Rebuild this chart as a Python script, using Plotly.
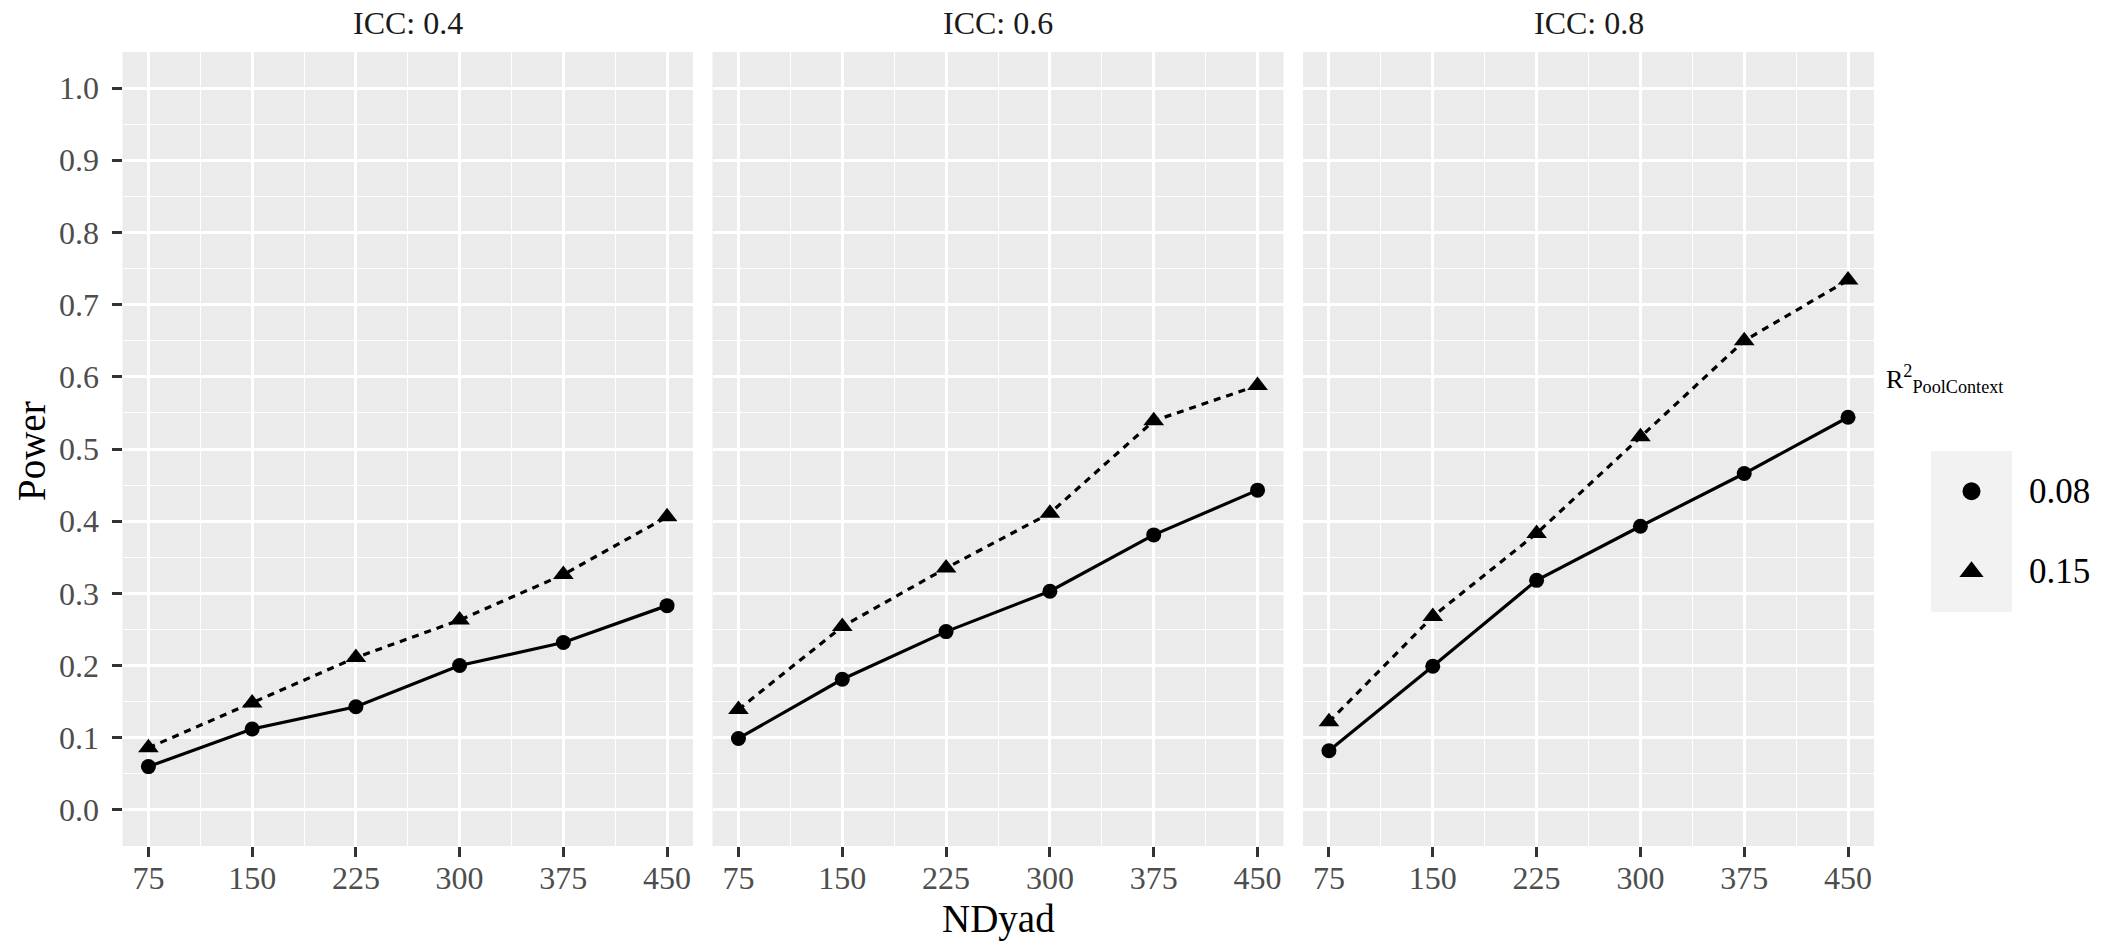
import plotly.graph_objects as go

# ---- data ----
ndyad = [75, 150, 225, 300, 375, 450]
icc_labels = ["ICC: 0.4", "ICC: 0.6", "ICC: 0.8"]
r2_labels = ["0.08", "0.15"]
power_icc04_r008 = [0.060, 0.112, 0.143, 0.200, 0.232, 0.283]
power_icc04_r015 = [0.086, 0.148, 0.211, 0.263, 0.326, 0.406]
power_icc06_r008 = [0.099, 0.181, 0.247, 0.303, 0.381, 0.443]
power_icc06_r015 = [0.139, 0.254, 0.335, 0.411, 0.539, 0.588]
power_icc08_r008 = [0.082, 0.199, 0.318, 0.393, 0.466, 0.544]
power_icc08_r015 = [0.122, 0.268, 0.383, 0.517, 0.650, 0.734]
y_ticks = [0.0, 0.1, 0.2, 0.3, 0.4, 0.5, 0.6, 0.7, 0.8, 0.9, 1.0]

panels = [
    (power_icc04_r008, power_icc04_r015),
    (power_icc06_r008, power_icc06_r015),
    (power_icc08_r008, power_icc08_r015),
]

W, H = 2121, 945
FONT = "Liberation Serif"
PANEL_BG = "#EBEBEB"

def px_x(v):
    return v / W

def px_y(v):
    return (H - v) / H

x_domains = [[px_x(122.5), px_x(693)], [px_x(712.5), px_x(1283.5)], [px_x(1303), px_x(1874)]]
y_domain = [px_y(846), px_y(52)]

symbols = ["circle", "triangle-up"]
sizes = [15, 18]
dashes = ["solid", "7px,6px"]

fig = go.Figure()
for i, (s1, s2) in enumerate(panels):
    ax = "" if i == 0 else str(i + 1)
    for j, series in enumerate([s1, s2]):
        fig.add_trace(go.Scatter(
            x=ndyad, y=series, mode="lines+markers",
            xaxis="x" + ax, yaxis="y" + ax,
            line=dict(color="black", width=3.2, dash=dashes[j]),
            marker=dict(symbol=symbols[j], size=sizes[j], color="black"),
            showlegend=False, hoverinfo="skip"))

# legend keys on a hidden axis (one row per R2 level)
key_rows = list(range(len(r2_labels)))
for j, lab in enumerate(r2_labels):
    fig.add_trace(go.Scatter(
        x=[0], y=[key_rows[j]], mode="markers", xaxis="x4", yaxis="y4",
        marker=dict(symbol=symbols[j], size=[18, 21][j], color="black"),
        showlegend=False, hoverinfo="skip"))

layout = dict(
    width=W, height=H, margin=dict(l=0, r=0, t=0, b=0),
    paper_bgcolor="white", plot_bgcolor=PANEL_BG,
    font=dict(family=FONT, size=32, color="#4D4D4D"),
    showlegend=False,
)

tick_font = dict(family=FONT, size=32, color="#4D4D4D")
for i in range(3):
    ax = "" if i == 0 else str(i + 1)
    layout["xaxis" + ax] = dict(
        domain=x_domains[i], range=[56.25, 468.75], anchor="y" + ax,
        tickvals=ndyad, ticktext=[str(v) for v in ndyad],
        ticks="outside", ticklen=10, tickwidth=2.6, tickcolor="#333333",
        tickfont=tick_font, ticklabelstandoff=-6,
        showgrid=True, gridcolor="white", gridwidth=2.6,
        minor=dict(tick0=37.5, dtick=75, showgrid=True, gridcolor="white", gridwidth=1.3, ticks=""),
        zeroline=False, showline=False, fixedrange=True)
    layout["yaxis" + ax] = dict(
        domain=y_domain, range=[-0.05, 1.05], anchor="x" + ax,
        tickvals=y_ticks, ticktext=["%.1f" % v for v in y_ticks],
        ticks="outside" if i == 0 else "", ticklen=10, tickwidth=2.6, tickcolor="#333333",
        showticklabels=(i == 0), tickfont=tick_font, ticklabelstandoff=6,
        showgrid=True, gridcolor="white", gridwidth=2.6,
        minor=dict(tick0=0.05, dtick=0.1, showgrid=True, gridcolor="white", gridwidth=1.3, ticks=""),
        zeroline=False, showline=False, fixedrange=True)

layout["xaxis4"] = dict(domain=[px_x(1931), px_x(2012)], range=[-1, 1], anchor="y4",
                        visible=False, fixedrange=True)
layout["yaxis4"] = dict(domain=[px_y(612), px_y(451)], range=[1.5, -0.5], anchor="x4",
                        visible=False, fixedrange=True)

annotations = []
for i, lab in enumerate(icc_labels):
    cx = (x_domains[i][0] + x_domains[i][1]) / 2
    annotations.append(dict(text=lab, x=cx, y=px_y(23), xref="paper", yref="paper",
                            showarrow=False, xanchor="center", yanchor="middle",
                            font=dict(family=FONT, size=32, color="#1A1A1A")))
annotations.append(dict(text="Power", x=px_x(31), y=px_y(451), xref="paper", yref="paper",
                        textangle=-90, showarrow=False, xanchor="center", yanchor="middle",
                        font=dict(family=FONT, size=39, color="black")))
annotations.append(dict(text="NDyad", x=(x_domains[1][0] + x_domains[1][1]) / 2, y=px_y(919),
                        xref="paper", yref="paper", showarrow=False,
                        xanchor="center", yanchor="middle",
                        font=dict(family=FONT, size=39, color="black")))
annotations.append(dict(text="R<sup>2</sup><sub>PoolContext</sub>", x=px_x(1884), y=px_y(379),
                        xref="paper", yref="paper", showarrow=False,
                        xanchor="left", yanchor="middle",
                        font=dict(family=FONT, size=26, color="black")))
for j, lab in enumerate(r2_labels):
    annotations.append(dict(text=lab, x=px_x(2027), y=key_rows[j], xref="paper", yref="y4",
                            showarrow=False, xanchor="left", yanchor="middle",
                            font=dict(family=FONT, size=35, color="black")))
layout["annotations"] = annotations

layout["shapes"] = [dict(type="rect", xref="x4 domain", yref="y4 domain",
                         x0=0, x1=1, y0=0, y1=1, layer="below",
                         fillcolor="#F2F2F2", line=dict(width=0))]

fig.update_layout(**layout)
fig.write_html("out.html")
